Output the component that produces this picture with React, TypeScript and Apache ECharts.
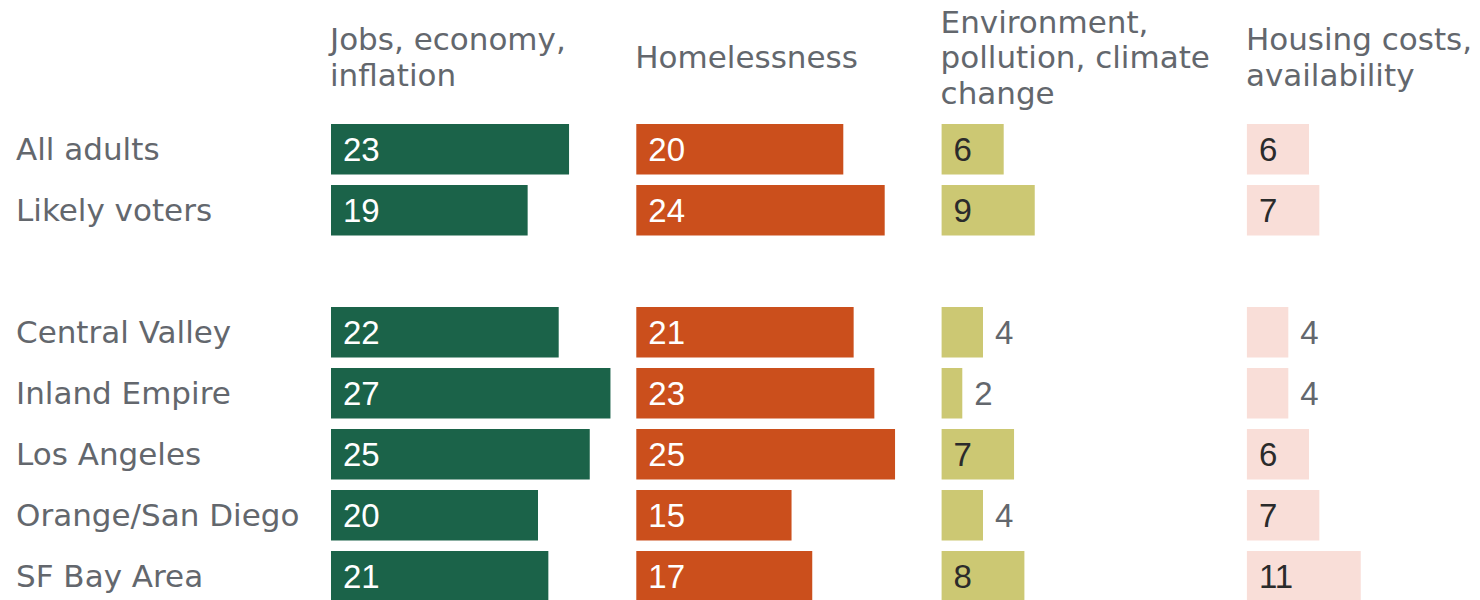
import React, { useEffect, useRef } from "react";
import * as echarts from "echarts";

const categories = [
  "All adults",
  "Likely voters",
  "",
  "Central Valley",
  "Inland Empire",
  "Los Angeles",
  "Orange/San Diego",
  "SF Bay Area",
];
const jobs = [23, 19, null, 22, 27, 25, 20, 21];
const homelessness = [20, 24, null, 21, 23, 25, 15, 17];
const environment = [6, 9, null, 4, 2, 7, 4, 8];
const housing = [6, 7, null, 4, 4, 6, 7, 11];
const panelTitles = [
  "Jobs, economy,\ninflation",
  "Homelessness",
  "Environment,\npollution, climate\nchange",
  "Housing costs,\navailability",
];
const panelColors = ["#1b6349", "#cb4f1c", "#ccc873", "#f9ded8"];
const insideLabelColors = ["#ffffff", "#ffffff", "#2b2b2b", "#2b2b2b"];

const LABEL_FONT = "'DejaVu Sans', 'Open Sans', sans-serif";
const VALUE_FONT = "'Liberation Sans', Arial, sans-serif";
const GRAY = "#63676d";

export default function App() {
  const ref = useRef<HTMLDivElement>(null);
  useEffect(() => {
    document.body.style.margin = "0";
    const chart = echarts.init(ref.current!, null, { renderer: "svg" });
    const seriesData = [jobs, homelessness, environment, housing];
    const pxPerUnit = 10.35;
    const axisMax = 30;
    const panelLeft0 = 331;
    const panelStep = 305.3;
    const rowPitch = 61;
    const firstCenter = 149.3;
    const gridTop = firstCenter - rowPitch / 2;

    const grids = seriesData.map((_, i) => ({
      left: panelLeft0 + i * panelStep,
      top: gridTop,
      width: axisMax * pxPerUnit,
      height: rowPitch * categories.length,
      containLabel: false,
    }));
    const xAxes = seriesData.map((_, i) => ({
      type: "value",
      gridIndex: i,
      min: 0,
      max: axisMax,
      show: false,
    }));
    const yAxes = seriesData.map((_, i) => ({
      type: "category",
      gridIndex: i,
      data: categories,
      inverse: true,
      axisLine: { show: false },
      axisTick: { show: false },
      splitLine: { show: false },
      axisLabel: {
        show: i === 0,
        align: "left",
        margin: panelLeft0 - 16,
        fontFamily: LABEL_FONT,
        fontSize: 31,
        color: GRAY,
      },
    }));
    const series = seriesData.map((vals, i) => ({
      type: "bar",
      xAxisIndex: i,
      yAxisIndex: i,
      barWidth: 50.5,
      itemStyle: { color: panelColors[i] },
      data: vals.map((v) => {
        if (v === null) return null;
        const inside = v > 5;
        return {
          value: v,
          label: {
            show: true,
            position: inside ? "insideLeft" : "right",
            distance: 12,
            color: inside ? insideLabelColors[i] : GRAY,
            fontFamily: VALUE_FONT,
            fontSize: 33,
          },
        };
      }),
    }));
    const lineH = 35.5;
    const graphics = panelTitles.map((t, i) => ({
      type: "text",
      left: panelLeft0 + i * panelStep - 1,
      top: 57 - (t.split("\n").length * lineH) / 2,
      style: {
        text: t,
        fontFamily: LABEL_FONT,
        fontSize: 31,
        lineHeight: lineH,
        fill: GRAY,
      },
    }));

    chart.setOption({
      animation: false,
      grid: grids,
      xAxis: xAxes,
      yAxis: yAxes,
      series,
      graphic: graphics,
    });
    return () => chart.dispose();
  }, []);
  return (
    <div style={{ width: 1480, height: 600, overflow: "hidden", position: "relative" }}>
      <div ref={ref} style={{ width: 1600, height: 660 }} />
    </div>
  );
}
